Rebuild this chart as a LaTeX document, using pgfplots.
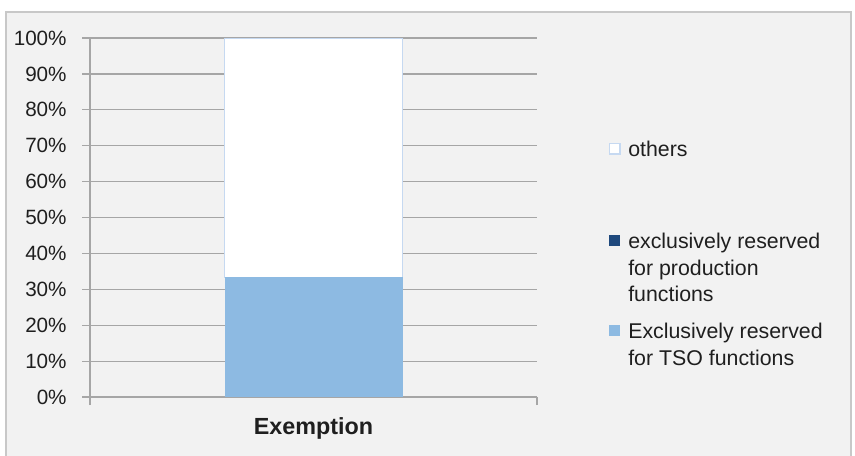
\documentclass[border=0pt]{standalone}
\usepackage{fontspec}
\setmainfont{Liberation Sans}
\usepackage{pgfplots}
\pgfplotsset{compat=1.18}

\definecolor{bgc}{HTML}{F2F2F2}
\definecolor{framec}{HTML}{C8C8C8}
\definecolor{gridc}{HTML}{A6A6A6}
\definecolor{tsoblue}{HTML}{8DBAE2}
\definecolor{navy}{HTML}{1F497D}
\definecolor{edgeblue}{HTML}{C6D9F1}

\begin{document}
\begin{tikzpicture}
% frame and background, in pixel units of the reference
\begin{scope}[x=0.75pt,y=-0.75pt]
  \useasboundingbox (0,0) rectangle (855,455);
  \fill[white] (0,0) rectangle (855,455);
  \filldraw[fill=bgc, draw=framec, line width=0.9pt] (6,12) rectangle (851,460);
\end{scope}

\begin{axis}[
  at={(67.5pt,-297.75pt)}, anchor=south west,
  scale only axis,
  width=335.25pt, height=269.25pt,
  ybar stacked,
  bar width=133.5pt,
  xmin=-0.5, xmax=0.5,
  ymin=0, ymax=100,
  axis x line=bottom, axis y line=left,
  axis line style={gridc, line width=0.9pt, -},
  xtick={-0.5,0.5}, xticklabels={},
  extra x ticks={0},
  extra x tick labels={\textbf{Exemption}},
  extra x tick style={major tick length=0pt, xticklabel style={yshift=-12pt, font=\fontsize{17.5}{20}\selectfont}},
  ytick={0,10,...,100},
  yticklabel={\pgfmathprintnumber{\tick}\%},
  /pgf/number format/assume math mode=true,
  tick align=outside,
  major tick length=6pt,
  tick style={gridc, line width=0.9pt},
  ymajorgrids,
  major grid style={gridc, line width=0.9pt},
  ticklabel style={font=\fontsize{15.5}{18}\selectfont, text=black!88},
  yticklabel style={xshift=-8pt},
]
\addplot[fill=tsoblue, draw=none] coordinates {(0,33.3)};
\addplot[fill=navy, draw=none] coordinates {(0,0)};
\addplot[fill=white, draw=edgeblue, line width=0.8pt] coordinates {(0,66.7)};
\end{axis}

% legend
\begin{scope}[x=0.75pt,y=-0.75pt, every node/.style={font=\fontsize{16}{18}\selectfont, text=black!88, inner sep=0pt, anchor=base west}]
  \filldraw[fill=white, draw=edgeblue, line width=0.8pt] (609.5,143.5) rectangle (620,154);
  \node at (628,156) {others};
  \fill[navy] (609,235) rectangle (620,246);
  \node at (628,248) {exclusively reserved};
  \node at (628,275) {for production};
  \node at (628,301) {functions};
  \fill[tsoblue] (609,325) rectangle (620,336);
  \node at (628,338) {Exclusively reserved};
  \node at (628,365) {for TSO functions};
\end{scope}
\end{tikzpicture}
\end{document}
